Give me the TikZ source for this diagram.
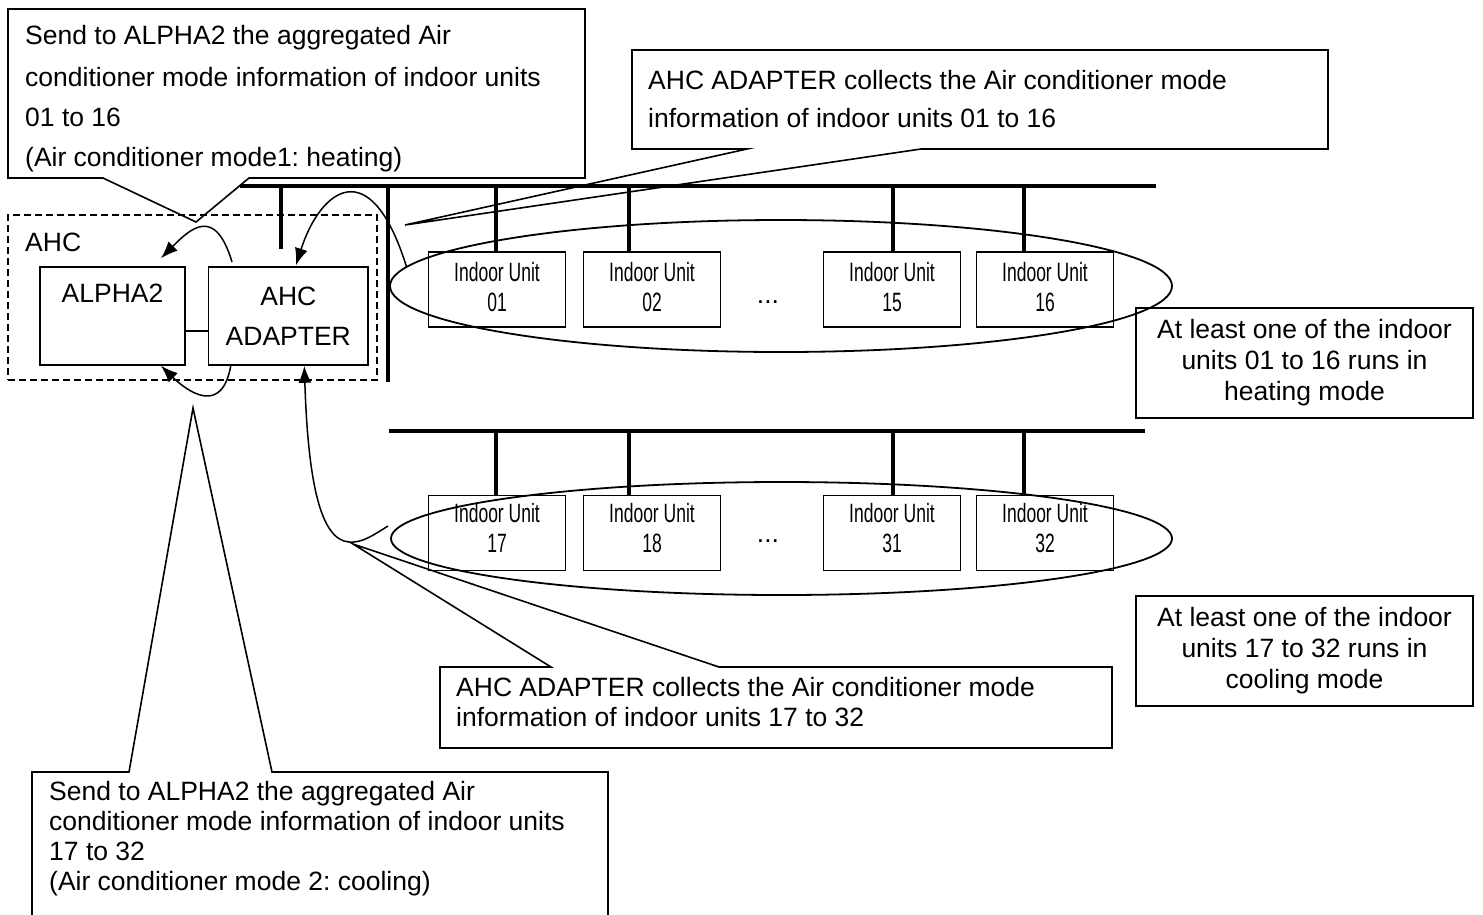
\documentclass[tikz,border=0pt]{standalone}
\usepackage{fontspec}
\setmainfont{Liberation Sans}
\newfontfamily\narrowfont[FakeStretch=0.66]{Liberation Sans}
\usetikzlibrary{arrows.meta,calc,shapes.geometric}
\frenchspacing
\begin{document}
\begin{tikzpicture}[x=1pt,y=-1pt,
  txt/.style={inner sep=0pt, anchor=base west, font=\fontsize{26.5}{30}\selectfont},
  ctxt/.style={inner sep=0pt, anchor=base, font=\fontsize{26.5}{30}\selectfont},
  blk/.style={draw, line width=1.6pt, inner sep=0pt},
  unitbox/.style={draw, line width=1.8pt, minimum width=137pt, minimum height=75pt, inner sep=0pt},
  unittxt/.style={inner sep=0pt, align=center, font=\narrowfont\fontsize{26.5}{30}\selectfont},
  notebox/.style={draw, line width=1.6pt, minimum width=337pt, minimum height=110pt, inner sep=0pt, align=center, font=\fontsize{26.5}{31}\selectfont},
  bus/.style={line width=4pt},
  callout/.style={draw, line width=1.6pt, line join=miter},
  arr/.style={line width=1.5pt, -{Latex[length=17pt,width=13pt]}},
  grp/.style={draw, line width=1.8pt, ellipse, inner sep=0pt}
]
\useasboundingbox (0,0) rectangle (1483,914);

% ---------- buses ----------
\coordinate (b1) at (240,186);
\coordinate (b1e) at (1156,186);
\coordinate (b2) at (389,431);
\coordinate (b2e) at (1145,431);
\draw[bus] (b1) -- (b1e);
\draw[bus] (b2) -- (b2e);
\coordinate (vtop) at (388,186);
\coordinate (vbot) at (388,382);
\draw[bus] (vtop) -- (vbot);
\coordinate (stubt) at (281,186);
\coordinate (stubb) at (281,249);
\draw[bus] (stubt) -- (stubb);

% ---------- AHC group ----------
\node[draw, dash pattern=on 7pt off 4pt, line width=1.4pt, minimum width=369pt, minimum height=165pt, inner sep=0pt] (ahc) at (192.5,297.5) {};
\node[txt] (ahcl) at (25,251) {AHC};
\node[blk, minimum width=145pt, minimum height=98pt] (alpha) at (112.5,316) {};
\node[ctxt] (alphat) at (112.5,302) {ALPHA2};
\node[blk, minimum width=159.5pt, minimum height=98pt, align=center, font=\fontsize{26.5}{40}\selectfont] (adapter) at (288.3,316) {AHC\\ADAPTER};
\draw[line width=1.5pt] ($(alpha.east)+(0,15)$) -- ($(adapter.west)+(0,15)$);

% ---------- indoor units row 1 ----------
\node[unitbox] (u01) at (497,289.5) {};
\node[unitbox] (u02) at (652,289.5) {};
\node[unitbox] (u15) at (892,289.5) {};
\node[unitbox] (u16) at (1045,289.5) {};
\node[unittxt] (u01t) at ($(u01)+(0,-2.5)$) {Indoor Unit\\01};
\node[unittxt] (u02t) at ($(u02)+(0,-2.5)$) {Indoor Unit\\02};
\node[unittxt] (u15t) at ($(u15)+(0,-2.5)$) {Indoor Unit\\15};
\node[unittxt] (u16t) at ($(u16)+(0,-2.5)$) {Indoor Unit\\16};
\node[ctxt] (dots1) at (768,303) {...};
\draw[bus] ([xshift=-1pt]u01.north) -- ([xshift=-1pt]u01.north |- b1);
\draw[bus] ([xshift=-23pt]u02.north) -- ([xshift=-23pt]u02.north |- b1);
\draw[bus] ([xshift=1pt]u15.north) -- ([xshift=1pt]u15.north |- b1);
\draw[bus] ([xshift=-21pt]u16.north) -- ([xshift=-21pt]u16.north |- b1);
\node[grp, minimum width=782pt, minimum height=132pt] (ell1) at (781,286) {};

% ---------- indoor units row 2 ----------
\node[unitbox] (u17) at (497,533) {};
\node[unitbox] (u18) at (652,533) {};
\node[unitbox] (u31) at (892,533) {};
\node[unitbox] (u32) at (1045,533) {};
\node[unittxt] (u17t) at ($(u17)+(0,-5)$) {Indoor Unit\\17};
\node[unittxt] (u18t) at ($(u18)+(0,-5)$) {Indoor Unit\\18};
\node[unittxt] (u31t) at ($(u31)+(0,-5)$) {Indoor Unit\\31};
\node[unittxt] (u32t) at ($(u32)+(0,-5)$) {Indoor Unit\\32};
\node[ctxt] (dots2) at (768,542) {...};
\draw[bus] ([xshift=-1pt]u17.north) -- ([xshift=-1pt]u17.north |- b2);
\draw[bus] ([xshift=-23pt]u18.north) -- ([xshift=-23pt]u18.north |- b2);
\draw[bus] ([xshift=1pt]u31.north) -- ([xshift=1pt]u31.north |- b2);
\draw[bus] ([xshift=-21pt]u32.north) -- ([xshift=-21pt]u32.north |- b2);
\node[grp, minimum width=781pt, minimum height=113pt] (ell2) at (781.5,538.5) {};

% ---------- right notes ----------
\node[notebox] (n1) at (1304.5,363) {At least one of the indoor\\units 01 to 16 runs in\\heating mode};
\node[notebox] (n2) at (1304.5,651) {At least one of the indoor\\units 17 to 32 runs in\\cooling mode};

% ---------- curved arrows ----------
\coordinate (a1s) at (232,262);
\draw[arr] (a1s) .. controls (215,205) and (190,229) .. ($(alpha.north)+(48.5,-8)$);
\draw[arr] (ell1.177) .. controls (370,150) and (320,190) .. ($(adapter.north)+(7.7,-1)$);
\draw[arr] ([xshift=23pt]adapter.south west) .. controls (222,415) and (189,393) .. ($(alpha.south)+(48.5,0)$);
\coordinate (a4s) at (388,526);
\coordinate (a4m) at (349,542);
\draw[arr] (a4s) .. controls (372,536) and (362,543) .. (a4m) .. controls (320,540) and (308,480) .. ($(adapter.south)+(16,0)$);

% ---------- callouts ----------
\draw[callout] (8,9) -- (585,9) -- (585,178) -- (249,178) -- (196,222) -- (103,178) -- (8,178) -- cycle;
\node[txt] (c1a) at (25,44) {Send to ALPHA2 the aggregated Air};
\node[txt] (c1b) at (25,86) {conditioner mode information of indoor units};
\node[txt] (c1c) at (25,126) {01 to 16};
\node[txt] (c1d) at (25,166) {(Air conditioner mode1: heating)};

\draw[callout] (632,50) -- (1328,50) -- (1328,149) -- (921,149) -- (405,225) -- (747,149) -- (632,149) -- cycle;
\node[txt] (c2a) at (648,89) {AHC ADAPTER collects the Air conditioner mode};
\node[txt] (c2b) at (648,127) {information of indoor units 01 to 16};

\draw[callout] (440,667) -- (551,667) -- (353,544) -- (719,667) -- (1112,667) -- (1112,748) -- (440,748) -- cycle;
\node[txt] (c3a) at (456,696) {AHC ADAPTER collects the Air conditioner mode};
\node[txt] (c3b) at (456,726) {information of indoor units 17 to 32};

\draw[callout] (32,916) -- (32,772) -- (129,772) -- (193,408) -- (272,772) -- (608,772) -- (608,916);
\node[txt] (c4a) at (49,800) {Send to ALPHA2 the aggregated Air};
\node[txt] (c4b) at (49,830) {conditioner mode information of indoor units};
\node[txt] (c4c) at (49,860) {17 to 32};
\node[txt] (c4d) at (49,890) {(Air conditioner mode 2: cooling)};
\end{tikzpicture}
\end{document}
